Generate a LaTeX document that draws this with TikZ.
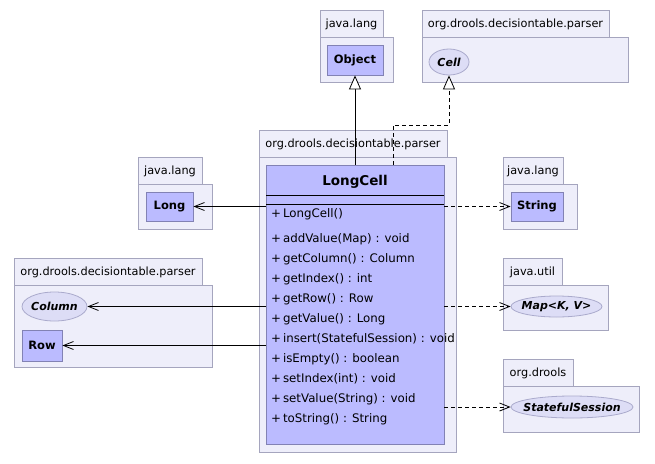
\documentclass[tikz,border=0pt]{standalone}
\usepackage{fontspec}
\setmainfont{DejaVu Sans}
\usetikzlibrary{arrows.meta,shapes.geometric}

\definecolor{pkgfill}{RGB}{238,238,250}
\definecolor{pkgline}{RGB}{165,165,190}
\definecolor{clsfill}{RGB}{187,187,255}
\definecolor{clsline}{RGB}{130,130,180}
\definecolor{ifcfill}{RGB}{221,221,246}
\definecolor{ifcline}{RGB}{170,170,204}

% package: tab x1, tab x2, body x2, top y, tab y, bottom y, label
\newcommand{\umlpkg}[7]{%
  \draw[pkg] (#1,#4) rectangle (#2,#5);
  \draw[pkg] (#1,#5) rectangle (#3,#6);
  \node[font=\fontsize{11.3}{13}\selectfont] at ({(#1+#2)/2},{(#4+#5)/2+1}) {#7};
}

\tikzset{
  pkg/.style={draw=pkgline,fill=pkgfill,line width=0.8pt},
  cls/.style={draw=clsline,fill=clsfill,line width=0.8pt,inner sep=0pt,
    font=\fontsize{11.5}{13}\selectfont\bfseries},
  ifc/.style={ellipse,draw=ifcline,fill=ifcfill,line width=0.8pt,inner ysep=0pt,
    inner xsep=-14pt,font=\fontsize{11}{13}\selectfont\bfseries\itshape},
  meth/.style={anchor=west,inner sep=0pt,font=\fontsize{11.8}{13}\selectfont},
  dep/.style={line width=0.8pt,-{Straight Barb[length=10pt,width=8pt]}},
  use/.style={dep,dash pattern=on 4pt off 3pt},
  gen/.style={line width=0.8pt,-{Triangle[open,length=14pt,width=12pt,fill=white]}},
  real/.style={gen,dash pattern=on 4pt off 3pt},
}

\begin{document}
\begin{tikzpicture}[x=1pt,y=-1pt]
  \useasboundingbox (0,0) rectangle (655,463);
  %
  % packages
  \umlpkg{320}{383}{393}{10}{37}{82}{java.lang}
  \umlpkg{422}{609}{628}{10}{37}{82}{org.drools.decisiontable.parser}
  \umlpkg{259}{447}{456}{130}{157}{452}{org.drools.decisiontable.parser}
  \umlpkg{138}{202}{212}{157}{184}{229}{java.lang}
  \umlpkg{14}{202}{212}{258}{285}{367}{org.drools.decisiontable.parser}
  \umlpkg{503}{563}{577}{157}{184}{229}{java.lang}
  \umlpkg{503}{562}{608}{258}{285}{330}{java.util}
  \umlpkg{503}{573}{639}{359}{386}{432}{org.drools}
  %
  % classes and interfaces
  \node[cls,minimum width=56pt,minimum height=30pt] (obj) at (355,60) {Object};
  \node[ifc,minimum width=40pt,minimum height=26pt] (cell) at (449,62) {Cell};
  \node[cls,minimum width=47pt,minimum height=29pt] (long) at (169.5,206.5) {Long};
  \node[ifc,minimum width=65pt,minimum height=29pt] (col) at (54.5,306.5) {Column};
  \node[cls,minimum width=40pt,minimum height=31pt] (row) at (42,345.5) {Row};
  \node[cls,minimum width=52pt,minimum height=29pt] (str) at (537,206.5) {String};
  \node[ifc,minimum width=91pt,minimum height=21pt] (map) at (556.5,306.5) {Map<K, V>};
  \node[ifc,minimum width=122pt,minimum height=22pt] (sess) at (572,407) {StatefulSession};
  %
  % LongCell
  \node[cls,minimum width=178pt,minimum height=279pt] (lc) at (355,304.5) {};
  \node[font=\fontsize{13.5}{15}\selectfont\bfseries] (lctitle) at (355,182) {LongCell};
  \draw[line width=0.8pt] (266,195) -- (444,195);
  \draw[line width=0.8pt] (266,204) -- (444,204);
  \node[meth] (m0) at (271,214) {+\,LongCell()};
  \foreach \m [count=\i] in {addValue(Map) : void, getColumn() : Column,
      getIndex() : int, getRow() : Row, getValue() : Long,
      insert(StatefulSession) : void, isEmpty() : boolean,
      setIndex(int) : void, setValue(String) : void, toString() : String}
    \node[meth] (m\i) at (271,219+20*\i) {+\,\m};
  %
  % relations
  \draw[gen] (lc.north) -- (obj.south);
  \coordinate (bend) at (393,125);
  \draw[real] (lc.north -| bend) -- (bend) -| (cell.south);
  \draw[dep] (lc.west |- long) -- (long.east);
  \draw[dep] (lc.west |- col) -- (col.east);
  \draw[dep] (lc.west |- row) -- (row.east);
  \draw[use] (lc.east |- str) -- (str.west);
  \draw[use] (lc.east |- map) -- (map.west);
  \draw[use] (lc.east |- sess) -- (sess.west);
\end{tikzpicture}
\end{document}
